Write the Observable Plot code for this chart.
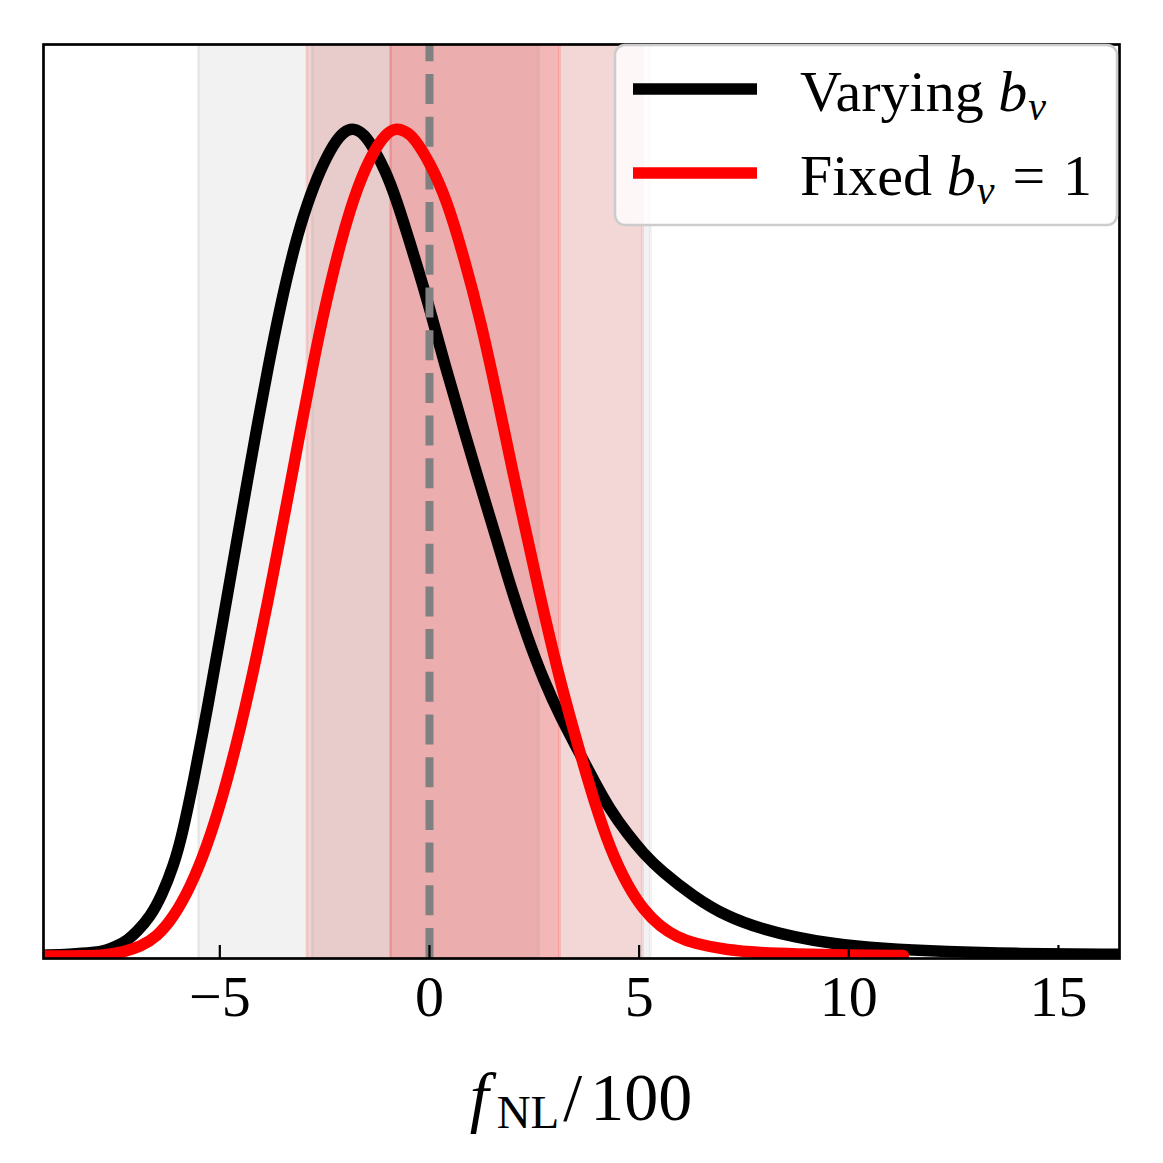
<!DOCTYPE html>
<html>
<head>
<meta charset="utf-8">
<script src="https://cdn.jsdelivr.net/npm/d3@7"></script>
<script src="https://cdn.jsdelivr.net/npm/@observablehq/plot@0.6"></script>
<style>
  body { margin: 0; background: #ffffff; }
  #chart { width: 1163px; height: 1163px; }
</style>
</head>
<body>
<div id="chart"></div>
<script>
// ---- axis limits & ticks ----
const xLimits = [-9.205, 16.456];
const yLimits = [0, 1.1];
const xTicks = [-5, 0, 5, 10, 15];

// ---- series: Varying b_v (black) ----
const varyingX = [-9.2, -8.6, -8.0, -7.7, -7.45, -7.2, -6.98, -6.66, -6.38, -6.1, -5.9, -5.62, -5.27, -4.99, -4.71, -4.43, -4.15, -3.84, -3.56, -3.2, -2.92, -2.6, -2.28, -2.05, -1.81, -1.55, -1.33, -1.05, -0.8, -0.53, -0.25, -0.05, 0.38, 0.82, 1.2, 1.6, 1.93, 2.33, 2.73, 3.13, 3.53, 3.92, 4.32, 4.72, 5.11, 5.51, 6.31, 7.11, 7.9, 8.69, 9.57, 10.76, 12.36, 13.94, 16.46];
const varyingY = [0.004, 0.005, 0.007, 0.010, 0.015, 0.022, 0.032, 0.05, 0.076, 0.112, 0.148, 0.215, 0.308, 0.388, 0.469, 0.55, 0.63, 0.714, 0.785, 0.862, 0.908, 0.950, 0.981, 0.995, 1.0, 0.992, 0.975, 0.948, 0.915, 0.872, 0.826, 0.792, 0.712, 0.636, 0.571, 0.505, 0.448, 0.387, 0.334, 0.29, 0.252, 0.214, 0.178, 0.15, 0.126, 0.106, 0.074, 0.05, 0.036, 0.026, 0.018, 0.012, 0.008, 0.006, 0.005];

// ---- series: Fixed b_v = 1 (red) ----
const fixedX = [-9.2, -8.3, -7.69, -7.3, -6.9, -6.5, -6.1, -5.7, -5.31, -4.91, -4.51, -4.11, -3.72, -3.37, -3.04, -2.75, -2.5, -2.1, -1.7, -1.33, -1.05, -0.81, -0.55, -0.37, 0.02, 0.42, 0.82, 1.22, 1.62, 2.01, 2.33, 2.73, 3.13, 3.53, 3.92, 4.32, 4.72, 5.11, 5.51, 5.9, 6.31, 7.11, 7.9, 8.69, 10.0, 11.3];
const fixedY = [0.003, 0.003, 0.004, 0.008, 0.014, 0.026, 0.05, 0.086, 0.134, 0.198, 0.276, 0.366, 0.464, 0.557, 0.646, 0.722, 0.783, 0.867, 0.932, 0.972, 0.992, 1.0, 0.995, 0.988, 0.957, 0.912, 0.844, 0.768, 0.675, 0.58, 0.507, 0.415, 0.331, 0.258, 0.19, 0.13, 0.088, 0.058, 0.038, 0.026, 0.018, 0.010, 0.007, 0.0055, 0.004, 0.0036];

// ---- credible intervals ----
const grayBand95 = [-5.51, 5.27];
const grayBand68 = [-2.80, 2.61];
const redBand95 = [-2.92, 5.08];
const redBand68 = [-0.93, 3.10];
const referenceX = [0];

const seriesNames = ["Varying", "Fixed"];
const seriesColors = ["#000000", "#ff0000"];

// ---- derived tables ----
const varying = varyingX.map((x, i) => ({x, y: varyingY[i]}));
const fixed = fixedX.map((x, i) => ({x, y: fixedY[i]}));
const bands = [
  {x1: grayBand95[0], x2: grayBand95[1], fill: "#808080", op: 0.1},
  {x1: grayBand68[0], x2: grayBand68[1], fill: "#808080", op: 0.1},
  {x1: redBand95[0], x2: redBand95[1], fill: "#ff0000", op: 0.11},
  {x1: redBand68[0], x2: redBand68[1], fill: "#ff0000", op: 0.15}
];
const edges = bands.flatMap(b => [{x: b.x1, fill: b.fill, op: b.op}, {x: b.x2, fill: b.fill, op: b.op}]);

const fmt = d => d < 0 ? "\u2212" + Math.abs(d) : String(d);

const svgNode = Plot.plot({
  width: 1163,
  height: 1163,
  marginLeft: 43,
  marginRight: 44,
  marginTop: 44,
  marginBottom: 205,
  style: {fontFamily: "Liberation Serif", background: "#ffffff", color: "#000000", overflow: "visible"},
  x: {domain: xLimits, axis: null},
  y: {domain: yLimits, axis: null},
  marks: [
    Plot.rect(bands, {x1: "x1", x2: "x2", fill: "fill", fillOpacity: "op"}),
    Plot.ruleX(edges, {x: "x", stroke: "fill", strokeOpacity: "op", strokeWidth: 3}),
    Plot.line(varying, {x: "x", y: "y", stroke: seriesColors[0], strokeWidth: 11.5, curve: "basis", clip: true, strokeLinejoin: "round"}),
    Plot.ruleX(referenceX, {x: d => d, y1: yLimits[0], y2: yLimits[1], stroke: "#808080", strokeWidth: 8, strokeDasharray: "30,12.7"}),
    Plot.line(fixed, {x: "x", y: "y", stroke: seriesColors[1], strokeWidth: 11.5, curve: "basis", clip: true, strokeLinejoin: "round"}),
    Plot.axisX(xTicks, {anchor: "bottom", tickSize: -13, strokeWidth: 2.2, tickFormat: () => "", stroke: "#000"}),
    Plot.axisX(xTicks, {anchor: "bottom", tickSize: 0, tickPadding: 16, tickFormat: fmt, fontSize: 58, fill: "#000"}),
    Plot.frame({stroke: "#000000", strokeWidth: 2.7})
  ]
});

document.getElementById("chart").appendChild(svgNode);
const svg = d3.select(svgNode);

// ---- x label: f_NL / 100 ----
const xl = svg.append("text")
  .attr("x", 581).attr("y", 1120)
  .attr("text-anchor", "middle")
  .attr("font-family", "Liberation Serif")
  .attr("font-size", 68)
  .attr("fill", "#000");
xl.append("tspan").attr("font-style", "italic").text("f");
xl.append("tspan").attr("font-size", 47).attr("dy", 8).attr("dx", 8).text("NL");
xl.append("tspan").attr("dy", -8).attr("dx", 4).text("/");
xl.append("tspan").attr("dx", 8).text("100");

// ---- legend ----
const lg = svg.append("g");
lg.append("rect")
  .attr("x", 615).attr("y", 45).attr("width", 502).attr("height", 180)
  .attr("rx", 10).attr("ry", 10)
  .attr("fill", "#ffffff").attr("fill-opacity", 0.8)
  .attr("stroke", "#cccccc").attr("stroke-width", 2.5);
const rowsY = [89, 173];
seriesNames.forEach((name, i) => {
  lg.append("line")
    .attr("x1", 633).attr("x2", 757).attr("y1", rowsY[i]).attr("y2", rowsY[i])
    .attr("stroke", seriesColors[i]).attr("stroke-width", 11.5);
  const t = lg.append("text")
    .attr("x", 800).attr("y", rowsY[i] + 22)
    .attr("text-anchor", "start")
    .attr("font-family", "Liberation Serif").attr("font-size", 58).attr("fill", "#000");
  t.append("tspan").text(name + " ");
  t.append("tspan").attr("font-style", "italic").text("b");
  t.append("tspan").attr("font-style", "italic").attr("font-size", 40).attr("dy", 9).attr("dx", 1).text("v");
  if (i === 1) {
    t.append("tspan").attr("dy", -9).attr("dx", 18).text("=");
    t.append("tspan").attr("dx", 18).text("1");
  }
});
</script>
</body>
</html>
